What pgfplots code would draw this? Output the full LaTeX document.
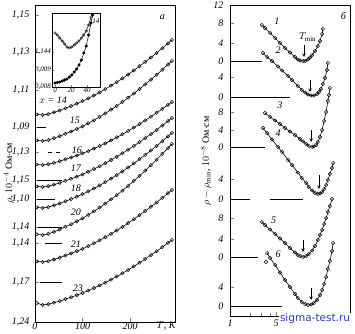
\documentclass[border=0pt]{standalone}
\usepackage{fontspec}
\setmainfont{Liberation Serif}
\newfontfamily\wm{DejaVu Sans}
\usepackage{pgfplots}
\pgfplotsset{compat=1.18}
\definecolor{wmblue}{RGB}{40,60,190}
\pgfplotsset{curve/.style={black, line width=0.6pt, mark=o, mark size=1.7pt, mark options={solid, line width=0.45pt, fill=white}}}
\pgfplotstableread{
T c14 c15 c16 c17 c18 c20 c21 c23
4 207.6 181.6 157.5 135.6 114.6 87.7 60.6 19
16 207 181 157 135 114 87 60 17
28 207.9 182 157.8 135.8 114.9 88.1 60.9 17.8
40 209.6 183.8 159.2 137.4 116.6 90.2 62.5 19.3
52 211.5 185.8 160.8 139.1 118.5 92.5 64.3 20.9
64 213.8 188.2 162.7 141.2 120.8 95.2 66.5 22.9
76 215.9 190.5 164.5 143.2 122.9 97.8 68.6 24.7
88 218.3 193 166.5 145.4 125.3 100.7 70.8 26.8
100 220.8 195.7 168.6 147.7 127.8 103.7 73.2 29
112 223.6 198.7 170.9 150.2 130.6 107.1 75.9 31.4
124 226.5 201.8 173.4 152.9 133.5 110.7 78.7 33.9
136 229.6 205.1 176 155.8 136.6 114.4 81.7 36.6
148 232.9 208.6 178.7 158.8 139.9 118.4 84.8 39.4
160 236.3 212.3 181.6 162 143.3 122.6 88.2 42.4
172 239.9 216 184.6 165.2 146.9 126.9 91.5 45.5
184 243.6 220 187.7 168.7 150.6 131.4 95.1 48.7
196 247.5 224.2 191 172.3 154.5 136.1 98.9 52.1
208 251.6 228.5 194.4 176 158.6 141.1 102.8 55.6
220 255.8 233 198 179.9 162.8 146.2 106.8 59.3
232 260.1 237.6 201.6 183.9 167.1 151.4 111 63
244 264.5 242.4 205.3 187.9 171.5 156.8 115.2 66.9
256 269.1 247.2 209.2 192.1 176.1 162.3 119.6 70.8
268 273.8 252.3 213.1 196.5 180.8 168.1 124.2 74.9
280 278.7 257.5 217.2 201 185.7 174 128.8 79.1
288 282 261 220 204 189 178 132 82
}\leftdata
\begin{document}
\begin{tikzpicture}[x=1pt,y=1pt]
\useasboundingbox (0,0) rectangle (355,333);
% ---------------- left panel
\begin{axis}[
  at={(35pt,11pt)}, anchor=south west, scale only axis,
  width=140pt, height=317pt,
  xmin=0, xmax=294.7, ymin=0, ymax=317,
  xtick={0,100,200}, xticklabels={0,100,200},
  ytick={307,270,232,195,170,142,123,95,79,40,0},
  yticklabels={{1,15},{1,13},{1,11},{1,09},{1,13},{1,15},{1,10},{1,14},{1,14},{1,17},{1,24}},
  tick label style={font=\itshape\fontsize{10}{10}\selectfont},
  xticklabel style={inner sep=1pt},
  yticklabel style={xshift=-2pt},
  tick align=inside, major tick length=4pt,
  xtick pos=bottom, ytick pos=left,
  axis line style={line width=0.9pt},
  clip=false,
]
\addplot[curve] table[x=T,y=c14]{\leftdata};
\addplot[curve] table[x=T,y=c15]{\leftdata};
\addplot[curve] table[x=T,y=c16]{\leftdata};
\addplot[curve] table[x=T,y=c17]{\leftdata};
\addplot[curve] table[x=T,y=c18]{\leftdata};
\addplot[curve] table[x=T,y=c20]{\leftdata};
\addplot[curve] table[x=T,y=c21]{\leftdata};
\addplot[curve] table[x=T,y=c23]{\leftdata};
% reference lines
\addplot[black, no marks, line width=0.7pt] coordinates {(4,195) (23,195)};
\addplot[black, no marks, line width=0.7pt] coordinates {(27,170) (36,170)};
\addplot[black, no marks, line width=0.7pt] coordinates {(44,170) (53,170)};
\addplot[black, no marks, line width=0.7pt] coordinates {(4,142) (57,142)};
\addplot[black, no marks, line width=0.7pt] coordinates {(4,123) (42,123)};
\addplot[black, no marks, line width=0.7pt] coordinates {(6,95) (57,95)};
\addplot[black, no marks, line width=0.7pt] coordinates {(21,79) (57,79)};
\addplot[black, no marks, line width=0.7pt] coordinates {(10,40) (57,40)};
\begin{scope}[font=\itshape\fontsize{10}{10}\selectfont]
\node at (axis cs:38,222) {$x$ = 14};
\node at (axis cs:84,202) {15};
\node at (axis cs:88,172) {16};
\node at (axis cs:86,154) {17};
\node at (axis cs:86,134) {18};
\node at (axis cs:86,110) {20};
\node at (axis cs:86,78) {21};
\node at (axis cs:90,34) {23};
\node at (axis cs:268,305) {а};
\end{scope}
\end{axis}
% ---------------- inset
\begin{axis}[
  at={(52pt,246pt)}, anchor=south west, scale only axis,
  width=48pt, height=74pt,
  xmin=-3.75, xmax=56.25, ymin=0, ymax=74,
  xtick={0,20,40}, xticklabels={0,20,40},
  ytick={0,17,35}, yticklabels={{0,008},{0,009},{1,144}},
  tick label style={font=\itshape\fontsize{7}{7}\selectfont, inner sep=1pt},
  tick align=inside, major tick length=2pt,
  xtick pos=bottom, ytick pos=left,
  axis line style={line width=0.8pt},
  axis background/.style={fill=white},
  clip=false,
]
\addplot[black, line width=0.5pt, mark=o, mark size=1.3pt, mark options={line width=0.4pt, fill=white}] coordinates {(0,54) (3,52) (6,49) (9,46) (12,43) (15,40) (18,39) (21,40) (24,42) (27,44) (30,46) (33,49) (36,52) (39,56) (42,62) (45,70)};
\addplot[black, line width=0.5pt, mark=*, mark size=1.3pt] coordinates {(0,4) (3,4.5) (6,5) (9,6) (12,7) (15,8) (18,10) (21,12) (24,15) (27,18) (30,22) (33,27) (36,34) (39,41) (42,52) (45,64) (47,72)};
\node[font=\itshape\fontsize{7}{7}\selectfont] at (axis cs:51,66) {14};
\end{axis}
% ---------------- right panel
\begin{axis}[
  at={(230pt,17pt)}, anchor=south west, scale only axis,
  width=120pt, height=311pt,
  xmode=log, xmin=1, xmax=65.8, ymin=0, ymax=311,
  xtick={1,5}, xticklabels={1,5},
  minor xtick={2,3,4,6,7,8,9,20,30,40,50,60},
  ytick={311,293,273,255,239,219,204,186,169,137,117,98,77,59,29,10},
  yticklabels={12,8,4,0,4,0,8,4,0,4,0,8,4,0,4,0},
  tick label style={font=\itshape\fontsize{10}{10}\selectfont},
  yticklabel style={xshift=-3pt},
  tick align=inside, major tick length=4pt, minor tick length=3pt,
  xtick pos=bottom, ytick pos=left,
  axis line style={line width=0.9pt},
  clip=false,
]
\addplot[curve] coordinates {(3.05,291) (3.39,288) (4.04,283) (4.81,278) (5.72,273) (6.81,268) (8.11,263.5) (9.66,259) (10.7,256.5) (11.5,255.5) (12.8,255) (13.7,255) (15.2,256.5) (16.3,258.5) (17.5,261) (19.4,265) (21.5,270) (23.1,275) (24.8,282) (25.6,287)};
\addplot[curve] coordinates {(3.16,263) (3.64,259) (4.33,255) (5.34,249.5) (6.14,245.5) (7.57,240) (8.70,236) (10.7,230) (12.3,226) (13.7,223.5) (15.2,221.5) (16.9,220.5) (18.7,220.5) (20.8,222) (22.3,224) (23.9,227) (25.6,232) (27.5,238) (29.5,246) (30.5,253)};
\addplot[curve] coordinates {(3.39,203) (4.04,199) (4.81,195.5) (5.72,192) (6.81,188) (8.11,184.5) (9.66,181) (11.5,177) (12.8,174.5) (14.2,172) (15.7,170) (17.5,169) (18.7,169.5) (20.1,171) (21.5,174) (23.1,179) (24.8,186) (26.6,195) (28.5,204) (30.5,215) (31.6,221) (32.7,228)};
\addplot[curve] coordinates {(3.16,188) (3.64,183) (4.33,176.5) (5.34,169) (6.14,164) (7.57,156) (8.70,151) (10.7,143.5) (12.3,138) (14.2,133) (15.7,129) (17.5,125.5) (19.4,123) (21.5,122) (23.1,122.5) (24.8,124) (26.6,127) (28.5,131) (30.5,136) (32.7,142) (35.1,148) (36.4,153)};
\addplot[curve] coordinates {(3.05,94) (3.39,91) (4.04,86.5) (4.81,82) (5.72,77.5) (6.81,73) (8.11,68) (9.66,63.5) (10.7,61) (11.5,60) (12.8,59) (14.2,60) (15.7,62) (17.5,65.5) (19.4,70) (21.5,76) (23.1,81) (24.8,86) (26.6,92) (28.5,98) (30.5,104) (32.7,110) (35.1,117)};
\addplot[curve] coordinates {(3.64,63) (4.04,58) (4.81,51) (5.72,43.5) (6.81,36) (8.11,29) (9.66,22) (10.7,18) (12.3,14) (13.7,12) (15.2,11) (16.9,11.5) (18.7,13) (20.8,16) (23.1,21) (24.8,26) (26.6,32) (28.5,39) (30.5,47) (32.7,55) (35.1,65) (36.4,73)};
\addplot[curve, only marks] coordinates {(3.51,54)};
% zero lines
\addplot[black, no marks, line width=0.7pt] coordinates {(1,255) (3.05,255)};
\addplot[black, no marks, line width=0.7pt] coordinates {(1,219) (8.11,219)};
\addplot[black, no marks, line width=0.7pt] coordinates {(1,169) (3.39,169)};
\addplot[black, no marks, line width=0.7pt] coordinates {(1,117) (2.01,117)};
\addplot[black, no marks, line width=0.7pt] coordinates {(4.04,117) (12.8,117)};
\addplot[black, no marks, line width=0.7pt] coordinates {(1,59) (2.65,59)};
\addplot[black, no marks, line width=0.7pt] coordinates {(1,10) (6.14,10)};
% arrows
\draw[-stealth, line width=0.6pt] (axis cs:13.2,271) -- (axis cs:13.2,259);
\draw[-stealth, line width=0.6pt] (axis cs:16.3,236) -- (axis cs:16.3,224);
\draw[-stealth, line width=0.6pt] (axis cs:16.9,186) -- (axis cs:16.9,174);
\draw[-stealth, line width=0.6pt] (axis cs:22.3,141) -- (axis cs:22.3,127);
\draw[-stealth, line width=0.6pt] (axis cs:12.8,76) -- (axis cs:12.8,64);
\draw[-stealth, line width=0.6pt] (axis cs:16.9,28) -- (axis cs:16.9,16);
\begin{scope}[font=\itshape\fontsize{10}{10}\selectfont]
\node at (axis cs:5.15,295) {1};
\node at (axis cs:5.34,266) {2};
\node at (axis cs:5.72,211) {3};
\node at (axis cs:5.34,183) {4};
\node at (axis cs:4.6,96) {5};
\node at (axis cs:5.34,62) {6};
\node at (axis cs:15,279) {$T_{\min}$};
\node at (axis cs:52,300) {б};
\end{scope}
\end{axis}
% ---------------- labels
\node[rotate=90, font=\fontsize{10}{10}\selectfont] at (9,160) {$\rho$, $10^{-4}$ Ом$\cdot$см};
\node[rotate=90, font=\fontsize{10}{10}\selectfont] at (206,172) {$\rho-\rho_{\min}$, $10^{-8}$ Ом$\cdot$см};
\node[font=\itshape\fontsize{10}{10}\selectfont] at (166,7) {$T$, K};
\node[text=wmblue, fill=white, inner sep=1pt, font=\wm\fontsize{10.5}{10.5}\selectfont] at (315,14) {sigma-test.ru};
\end{tikzpicture}
\end{document}
